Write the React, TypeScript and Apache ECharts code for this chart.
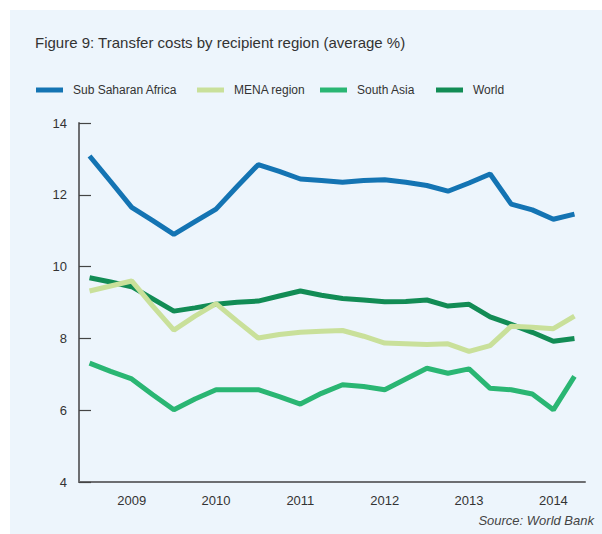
import React, { useEffect, useRef } from "react";
import * as echarts from "echarts";

const categories = [
  "2008Q3", "2008Q4",
  "2009Q1", "2009Q2", "2009Q3", "2009Q4",
  "2010Q1", "2010Q2", "2010Q3", "2010Q4",
  "2011Q1", "2011Q2", "2011Q3", "2011Q4",
  "2012Q1", "2012Q2", "2012Q3", "2012Q4",
  "2013Q1", "2013Q2", "2013Q3", "2013Q4",
  "2014Q1", "2014Q2",
];

const subSaharanAfrica = [13.08, 12.37, 11.65, 11.28, 10.9, 11.25, 11.6, 12.23, 12.84, 12.65, 12.44, 12.4, 12.35, 12.4, 12.42, 12.35, 12.26, 12.1, 12.33, 12.58, 11.74, 11.58, 11.32, 11.46];
const menaRegion = [9.32, 9.46, 9.6, 8.9, 8.23, 8.62, 8.97, 8.48, 8.01, 8.11, 8.17, 8.2, 8.22, 8.06, 7.87, 7.85, 7.83, 7.85, 7.64, 7.8, 8.34, 8.31, 8.27, 8.62];
const southAsia = [7.31, 7.08, 6.87, 6.43, 6.01, 6.31, 6.57, 6.57, 6.57, 6.38, 6.17, 6.47, 6.71, 6.66, 6.57, 6.87, 7.17, 7.03, 7.15, 6.61, 6.57, 6.45, 6.01, 6.94];
const world = [9.69, 9.57, 9.44, 9.1, 8.76, 8.85, 8.95, 9.01, 9.04, 9.18, 9.32, 9.2, 9.11, 9.07, 9.02, 9.03, 9.07, 8.9, 8.95, 8.6, 8.39, 8.17, 7.92, 8.0];

const FONT = "'Liberation Sans', Arial, Helvetica, sans-serif";
const AXIS_COLOR = "#6d6e71";
const TEXT_COLOR = "#333333";

export default function App() {
  const ref = useRef<HTMLDivElement>(null);

  useEffect(() => {
    if (!ref.current) return;
    const chart = echarts.init(ref.current, undefined, { renderer: "svg" });
    const seriesDefs = [
      { name: "Sub Saharan Africa", data: subSaharanAfrica, color: "#1474b3", z: 2 },
      { name: "MENA region", data: menaRegion, color: "#c9e09a", z: 4 },
      { name: "South Asia", data: southAsia, color: "#2ab673", z: 2 },
      { name: "World", data: world, color: "#128c55", z: 3 },
    ];
    const legendLefts = [36, 197, 320, 436];
    chart.setOption({
      animation: false,
      title: {
        text: "Figure 9: Transfer costs by recipient region (average %)",
        left: 35,
        top: 35,
        padding: 0,
        textStyle: { fontFamily: FONT, fontSize: 15, fontWeight: "normal", color: TEXT_COLOR },
      },
      legend: seriesDefs.map((s, i) => ({
        data: [s.name],
        left: legendLefts[i],
        top: 84,
        padding: 0,
        icon: "rect",
        itemWidth: 27,
        itemHeight: 5,
        selectedMode: false,
        textStyle: { fontFamily: FONT, fontSize: 12, color: TEXT_COLOR, padding: [0, 0, 0, 5] },
      })),
      graphic: [
        {
          type: "text",
          right: 8,
          top: 514,
          style: {
            text: "Source: World Bank",
            font: `italic 13px ${FONT}`,
            fill: "#444444",
          },
        },
      ],
      grid: { left: 79, right: 17, top: 123, bottom: 52, containLabel: false },
      xAxis: {
        type: "category",
        data: categories,
        boundaryGap: true,
        axisLine: { lineStyle: { color: AXIS_COLOR, width: 2 } },
        axisTick: {
          inside: true,
          length: 8,
          alignWithLabel: true,
          interval: 0,
          lineStyle: { color: "#444", width: 1.2 },
        },
        axisLabel: {
          interval: (i: number) => categories[i].endsWith("Q1"),
          formatter: (v: string) => v.slice(0, 4),
          fontFamily: FONT,
          fontSize: 13,
          color: TEXT_COLOR,
          margin: 12,
        },
        splitLine: { show: false },
      },
      yAxis: {
        type: "value",
        min: 4,
        max: 14,
        interval: 2,
        axisLine: { show: true, lineStyle: { color: AXIS_COLOR, width: 2 } },
        axisTick: { show: true, inside: true, length: 12, lineStyle: { color: "#444", width: 1.2 } },
        axisLabel: { fontFamily: FONT, fontSize: 13, color: TEXT_COLOR, margin: 12 },
        splitLine: { show: false },
      },
      series: seriesDefs.map((s) => ({
        name: s.name,
        type: "line",
        data: s.data,
        symbol: "none",
        z: s.z,
        color: s.color,
        lineStyle: { color: s.color, width: 5 },
        itemStyle: { color: s.color },
      })),
    });
    return () => chart.dispose();
  }, []);

  return (
    <div style={{ position: "absolute", left: 0, top: 0, width: 602, height: 534, background: "#ffffff" }}>
      <div style={{ position: "absolute", left: 10, top: 10, width: 592, height: 524, background: "#edf5fc" }} />
      <div ref={ref} style={{ position: "absolute", left: 0, top: 0, width: 602, height: 534 }} />
    </div>
  );
}
